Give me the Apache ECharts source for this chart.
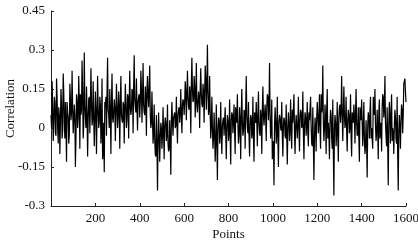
<!DOCTYPE html>
<html>
<head>
<meta charset="utf-8">
<script src="https://cdn.jsdelivr.net/npm/echarts@6/dist/echarts.min.js"></script>
<style>
html, body { margin: 0; padding: 0; background: #fff; }
#main { width: 418px; height: 242px; }
</style>
</head>
<body>
<div id="main"></div>
<script>
// correlation: corr at points 0,5,10,..., corrMid half way between
var step = 5;
var corr = [
    0.05,
    0.18, -0.05, 0.12, -0.02, 0.19, 0.0, 0.08, -0.1, 0.15, -0.04, 0.21, 0.02, 0.1, -0.13, 0.06, -0.06, 0.17, 0.03, 0.22, -0.02,
    0.09, -0.15, 0.13, 0.0, 0.2, -0.08, 0.05, 0.26, -0.04, 0.29, 0.04, 0.16, -0.11, 0.11, -0.02, 0.23, 0.01, 0.18, -0.07, 0.14,
    -0.1, 0.2, 0.0, 0.12, -0.06, 0.19, -0.09, -0.17, 0.08, -0.03, 0.27, 0.05, 0.15, -0.1, 0.21, 0.02, 0.11, -0.05, 0.17, 0.0,
    0.14, -0.08, 0.2, 0.03, 0.1, -0.06, 0.17, 0.0, 0.13, -0.04, 0.22, 0.05, 0.15, -0.02, 0.28, 0.08, 0.19, -0.01, 0.12, 0.04,
    0.22, 0.02, 0.25, 0.06, 0.16, -0.03, 0.2, 0.08, 0.24, 0.0, 0.14, -0.06, 0.09, -0.1, 0.05, -0.24, 0.06, -0.13, 0.02, -0.08,
    0.08, -0.12, 0.04, -0.05, 0.09, -0.09, 0.03, -0.18, 0.1, -0.03, 0.05, 0.0, 0.12, -0.06, 0.07, 0.02, 0.15, -0.02, 0.11, 0.05,
    0.18, 0.03, 0.22, 0.08, 0.16, -0.02, 0.27, 0.1, 0.2, 0.04, 0.25, 0.06, 0.14, 0.0, 0.23, 0.09, 0.17, 0.02, 0.24, 0.07,
    0.32, 0.05, 0.2, -0.04, 0.12, -0.08, 0.06, -0.13, 0.09, -0.2, 0.04, -0.06, 0.1, -0.1, 0.03, -0.03, 0.08, -0.12, 0.05, -0.05,
    0.11, -0.14, 0.06, -0.02, 0.09, -0.1, 0.04, 0.13, -0.06, 0.08, -0.12, 0.15, -0.03, 0.07, -0.08, 0.2, 0.0, 0.1, -0.11, 0.05,
    -0.04, 0.12, -0.13, 0.03, 0.1, -0.07, 0.14, -0.02, 0.07, -0.1, 0.16, 0.01, 0.09, -0.05, 0.13, 0.03, 0.25, -0.04, 0.11, -0.09,
    -0.22, 0.08, -0.06, 0.12, -0.15, 0.05, 0.0, 0.1, -0.11, 0.04, -0.03, 0.09, -0.14, 0.06, -0.05, 0.11, -0.08, 0.02, 0.13, -0.1,
    0.05, -0.04, 0.12, -0.09, 0.07, 0.0, 0.14, -0.12, 0.06, -0.03, 0.1, -0.07, 0.03, 0.12, -0.06, 0.08, -0.2, 0.04, -0.09, 0.1,
    -0.02, 0.13, -0.08, 0.06, 0.24, -0.05, 0.09, -0.1, 0.15, 0.02, -0.12, 0.07, -0.04, 0.11, -0.26, 0.05, -0.07, 0.1, -0.13, 0.08,
    0.02, 0.2, -0.05, 0.16, 0.0, 0.12, -0.09, 0.07, -0.02, 0.13, -0.11, 0.04, 0.09, -0.06, 0.15, -0.03, 0.08, -0.13, 0.05, 0.11,
    -0.07, 0.1, -0.1, 0.03, -0.19, 0.06, -0.04, 0.12, 0.0, -0.08, 0.09, 0.15, -0.05, 0.07, -0.12, 0.11, 0.01, -0.09, 0.13, 0.04,
    0.2, -0.03, 0.08, -0.22, 0.1, -0.06, 0.13, 0.0, -0.1, 0.07, -0.04, 0.12, -0.24, 0.05, -0.08, 0.09, -0.02, 0.17, 0.19, 0.1
];
var corrMid = [
    0.0, 0.08, 0.02, 0.1, -0.03, 0.12, -0.06, 0.05, 0.02, 0.09, -0.01, 0.14, -0.04, 0.0, 0.1, 0.04, -0.03, 0.11, 0.06, 0.08,
    0.03, 0.05, -0.04, 0.11, 0.04, 0.1, 0.13, 0.07, 0.15, 0.01, 0.09, 0.0, 0.06, 0.03, 0.12, 0.08, 0.1, 0.03, 0.05, 0.02,
    0.07, 0.05, 0.08, 0.02, 0.09, 0.0, -0.12, 0.02, 0.1, 0.12, 0.14, 0.07, 0.0, 0.06, 0.1, 0.04, 0.06, 0.08, 0.05, 0.09,
    0.04, 0.08, 0.1, 0.05, 0.02, 0.09, 0.06, 0.1, 0.03, 0.12, 0.1, 0.08, 0.07, 0.14, 0.16, 0.11, 0.06, 0.08, 0.1, 0.13,
    0.1, 0.15, 0.12, 0.09, 0.05, 0.11, 0.15, 0.12, 0.08, 0.05, 0.02, 0.03, -0.02, -0.04, -0.11, -0.06, -0.05, -0.03, -0.04, 0.0,
    -0.03, -0.02, 0.01, 0.02, -0.02, -0.06, -0.08, -0.05, 0.03, 0.02, 0.04, 0.06, 0.01, 0.02, 0.05, 0.08, 0.06, 0.04, 0.09, 0.1,
    0.1, 0.14, 0.13, 0.12, 0.07, 0.13, 0.17, 0.15, 0.11, 0.16, 0.12, 0.09, 0.06, 0.12, 0.15, 0.13, 0.08, 0.14, 0.13, 0.19,
    0.16, 0.14, 0.07, 0.05, 0.01, 0.0, -0.04, -0.02, -0.06, -0.05, 0.0, 0.03, -0.02, -0.04, 0.01, 0.04, -0.03, -0.02, 0.0, 0.03,
    -0.02, -0.03, 0.03, 0.05, -0.02, -0.01, 0.08, 0.02, 0.01, -0.03, 0.03, 0.05, 0.02, -0.01, 0.06, 0.08, 0.05, -0.02, -0.03, 0.01,
    0.04, -0.02, -0.04, 0.06, 0.02, 0.03, 0.05, 0.02, -0.03, 0.04, 0.07, 0.05, 0.01, 0.04, 0.08, 0.12, 0.09, 0.04, 0.0, -0.12,
    -0.05, 0.01, 0.03, -0.02, -0.04, 0.02, 0.04, -0.01, -0.03, 0.01, 0.03, -0.04, -0.03, 0.0, 0.02, 0.01, -0.03, 0.07, 0.02, -0.02,
    0.01, 0.05, 0.02, -0.01, 0.04, 0.06, 0.01, -0.02, 0.01, 0.04, 0.02, -0.02, 0.06, 0.03, 0.0, -0.07, -0.06, -0.03, 0.0, 0.04,
    0.05, 0.03, -0.01, 0.13, 0.08, 0.02, 0.0, 0.03, 0.07, -0.04, -0.02, 0.02, 0.05, -0.08, -0.1, 0.0, 0.02, -0.02, -0.03, 0.04,
    0.09, 0.07, 0.05, 0.06, 0.05, 0.02, -0.01, 0.03, 0.05, 0.01, -0.03, 0.06, 0.02, 0.04, 0.06, 0.02, -0.02, -0.04, 0.08, 0.03,
    0.02, 0.0, -0.04, -0.07, -0.06, 0.01, 0.04, 0.06, -0.04, 0.0, 0.12, 0.05, 0.01, -0.02, -0.01, 0.06, -0.04, 0.02, 0.08, 0.12,
    0.08, 0.02, -0.07, -0.06, 0.02, 0.04, 0.06, -0.05, -0.02, 0.01, 0.04, -0.06, -0.1, -0.01, 0.0, 0.03, 0.07, 0.05, 0.18, 0.14
];
var xTicks = [0, 200, 400, 600, 800, 1000, 1200, 1400, 1600];
var yTicks = [-0.3, -0.15, 0, 0.15, 0.3, 0.45];

var seriesData = [];
for (var i = 0; i < corr.length; i++) {
    seriesData.push([i * step, corr[i]]);
    if (i < corrMid.length) {
        seriesData.push([i * step + step / 2, corrMid[i]]);
    }
}

var font = "'Liberation Serif', 'Times New Roman', serif";
var myChart = echarts.init(document.getElementById('main'));
var option = {
    animation: false,
    backgroundColor: '#fff',
    grid: { left: 51, right: 12, top: 11, bottom: 36, containLabel: false, outerBoundsMode: 'none' },
    xAxis: {
        type: 'value',
        min: xTicks[0],
        max: xTicks[xTicks.length - 1],
        interval: 200,
        name: 'Points',
        nameLocation: 'middle',
        nameGap: 22,
        nameMoveOverlap: false,
        nameTextStyle: { fontFamily: font, fontSize: 13, color: '#111' },
        axisLine: { onZero: false, lineStyle: { color: '#222', width: 1 } },
        axisTick: { inside: true, length: 3, lineStyle: { color: '#222' } },
        axisLabel: {
            fontFamily: font, fontSize: 13, color: '#111', margin: 6,
            formatter: function (v) { return v === 0 ? '' : String(v); }
        },
        splitLine: { show: false }
    },
    yAxis: {
        type: 'value',
        min: yTicks[0],
        max: yTicks[yTicks.length - 1],
        interval: 0.15,
        name: 'Correlation',
        nameLocation: 'middle',
        nameGap: 34,
        nameMoveOverlap: false,
        nameTextStyle: { fontFamily: font, fontSize: 13, color: '#111' },
        axisLine: { show: true, lineStyle: { color: '#222', width: 1 } },
        axisTick: { show: true, inside: true, length: 3, lineStyle: { color: '#222' } },
        axisLabel: {
            fontFamily: font, fontSize: 13, color: '#111', margin: 6,
            formatter: function (v) { return String(parseFloat(v.toFixed(2))); }
        },
        splitLine: { show: false }
    },
    series: [{
        type: 'line',
        data: seriesData,
        showSymbol: false,
        lineStyle: { color: '#000', width: 1.2 }
    }]
};
myChart.setOption(option);
</script>
</body>
</html>
